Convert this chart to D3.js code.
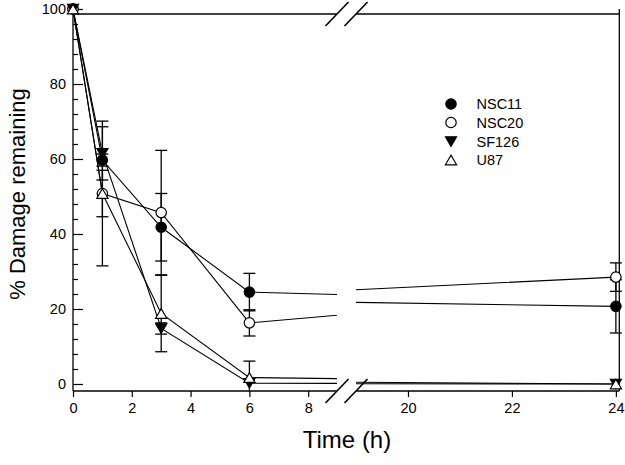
<!DOCTYPE html>
<html><head><meta charset="utf-8">
<script src="https://cdn.jsdelivr.net/npm/d3@7"></script>
<style>body{margin:0;background:#fff}svg{display:block}text{font-family:"Liberation Sans",Arial,sans-serif;fill:#000}</style>
</head><body>
<svg id="chart" width="625" height="465"></svg>
<script>
// ---- data ----
const times = [0, 1, 3, 6, 24];
const seriesNames = ["NSC11", "NSC20", "SF126", "U87"];
const nsc11 = [100, 59.7, 41.8, 24.5, 20.7];
const nsc11Err = [0, 1.6, 9.0, 5.0, 7.1];
const nsc20 = [100, 50.8, 45.7, 16.3, 28.5];
const nsc20Err = [0, 19.3, 16.6, 3.5, 3.8];
const sf126 = [100, 61.5, 14.8, 0.2, 0];
const sf126Err = [0, 7.1, 1.5, 0, 0];
const u87 = [100, 50.8, 18.8, 1.7, 0];
const u87Err = [0, 6.2, 10.2, 4.4, 0];
const xTicksLeft = [0, 2, 4, 6, 8];
const xTicksRight = [20, 22, 24];
const yTicksMajor = [0, 20, 40, 60, 80, 100];
const yTicksMinor = d3.range(4, 100, 4).filter(v => v % 20 !== 0);
const symbols = ["circleFilled", "circleOpen", "triDownFilled", "triUpOpen"];

const series = seriesNames.map((name, i) => ({
  name, sym: symbols[i],
  values: [nsc11, nsc20, sf126, u87][i],
  errs: [nsc11Err, nsc20Err, sf126Err, u87Err][i]
}));

// ---- layout ----
const svg = d3.select("#chart");
const axisY = 391, topY = 14;
const xL = d3.scaleLinear().domain([0, 9]).range([73, 337.6]);
const xR = d3.scaleLinear().domain([19, 24.06]).range([356, 619]);
const y = d3.scaleLinear().domain([-1.87, 100]).range([axisY, 9]);
const xOf = t => t <= 9 ? xL(t) : xR(t);
const breakL = 337, breakR = 356;

const defs = svg.append("defs");
defs.append("clipPath").attr("id", "clipL").append("rect")
  .attr("x", 73).attr("y", 0).attr("width", breakL - 73).attr("height", axisY);
defs.append("clipPath").attr("id", "clipR").append("rect")
  .attr("x", breakR).attr("y", 0).attr("width", 619 - breakR).attr("height", axisY);
defs.append("clipPath").attr("id", "clipY").append("rect")
  .attr("x", 0).attr("y", 0).attr("width", 625).attr("height", axisY);

// frame: top line and right line
const frame = svg.append("g").attr("stroke", "#000").attr("stroke-width", 1.3).attr("fill", "none");
frame.append("line").attr("x1", 73).attr("x2", breakL).attr("y1", topY).attr("y2", topY);
frame.append("line").attr("x1", breakR).attr("x2", 619.3).attr("y1", topY).attr("y2", topY);
frame.append("line").attr("x1", 619.3).attr("x2", 619.3).attr("y1", y(100)).attr("y2", axisY);

// x axes
function styleAxis(g) {
  g.selectAll("path.domain").attr("stroke-width", 1.3);
  g.selectAll(".tick line").attr("stroke-width", 1.2);
  g.selectAll("text").style("font-size", "14.5px").style("font-family", '"Liberation Sans", Arial, sans-serif');
}
const gxL = svg.append("g").attr("transform", `translate(0,${axisY})`)
  .call(d3.axisBottom(xL).tickValues(xTicksLeft).tickSize(6).tickSizeOuter(0).tickPadding(6).tickFormat(d3.format("d")));
gxL.select("path.domain").attr("d", `M73,0H${breakL}`);
styleAxis(gxL);
const gxR = svg.append("g").attr("transform", `translate(0,${axisY})`)
  .call(d3.axisBottom(xR).tickValues(xTicksRight).tickSize(6).tickSizeOuter(0).tickPadding(6).tickFormat(d3.format("d")));
gxR.select("path.domain").attr("d", `M${breakR},0H619.3`);
styleAxis(gxR);

// y axis
const gy = svg.append("g").attr("transform", "translate(73,0)")
  .call(d3.axisLeft(y).tickValues(yTicksMajor).tickSize(-10).tickSizeOuter(0).tickPadding(7));
gy.select("path.domain").attr("d", `M0,${y(100)}V${axisY}`);
styleAxis(gy);
const gyMinor = svg.append("g").attr("transform", "translate(73,0)")
  .call(d3.axisLeft(y).tickValues(yTicksMinor).tickSize(-5).tickFormat(""));
gyMinor.select("path.domain").remove();
gyMinor.selectAll(".tick line").attr("stroke-width", 1.2);

// break marks
const brk = svg.append("g").attr("stroke", "#000").attr("stroke-width", 1.6);
[topY, axisY].forEach(yy => {
  [breakL, breakR].forEach(xx => {
    brk.append("line").attr("x1", xx - 11.5).attr("y1", yy + 12).attr("x2", xx + 11.5).attr("y2", yy - 12);
  });
});

// lines
const plot = svg.append("g");
[["clipL", xL], ["clipR", xR]].forEach(([clip, sx]) => {
  const g = plot.append("g").attr("clip-path", `url(#${clip})`);
  series.forEach(s => {
    const line = d3.line().x((d, i) => sx(times[i])).y(d => y(d));
    g.append("path").attr("d", line(s.values)).attr("fill", "none").attr("stroke", "#000").attr("stroke-width", 1.1);
  });
});

// error bars
const eg = plot.append("g").attr("clip-path", "url(#clipY)").attr("stroke", "#000").attr("stroke-width", 1.3);
series.forEach(s => {
  s.values.forEach((v, i) => {
    const e = s.errs[i];
    if (!e) return;
    const cx = xOf(times[i]);
    const y1 = y(v + e), y2 = y(v - e);
    eg.append("line").attr("x1", cx).attr("x2", cx).attr("y1", y1).attr("y2", y2);
    eg.append("line").attr("x1", cx - 6).attr("x2", cx + 6).attr("y1", y1).attr("y2", y1);
    eg.append("line").attr("x1", cx - 6).attr("x2", cx + 6).attr("y1", y2).attr("y2", y2);
  });
});

// markers
function drawSymbol(g, sym, cx, cy) {
  const r = 5.2, w = 5.6, h = 9.6;
  if (sym === "circleFilled" || sym === "circleOpen") {
    g.append("circle").attr("cx", cx).attr("cy", cy).attr("r", r)
      .attr("fill", sym === "circleFilled" ? "#000" : "#fff").attr("stroke", "#000").attr("stroke-width", 1.2);
  } else if (sym === "triDownFilled") {
    g.append("path").attr("d", `M${cx - w},${cy - h / 2}L${cx + w},${cy - h / 2}L${cx},${cy + h / 2}Z`)
      .attr("fill", "#000").attr("stroke", "#000").attr("stroke-width", 1.1);
  } else {
    g.append("path").attr("d", `M${cx - w},${cy + h / 2}L${cx + w},${cy + h / 2}L${cx},${cy - h / 2}Z`)
      .attr("fill", "#fff").attr("stroke", "#000").attr("stroke-width", 1.2);
  }
}
const mg = plot.append("g");
series.forEach(s => {
  s.values.forEach((v, i) => drawSymbol(mg, s.sym, xOf(times[i]), y(v)));
});

// legend
const lg = svg.append("g");
const legY = [104, 122.5, 141.5, 160];
series.forEach((s, i) => {
  drawSymbol(lg, s.sym, 451, legY[i]);
  lg.append("text").attr("x", 476.5).attr("y", legY[i]).attr("dy", "0.36em")
    .style("font-size", "14.5px").text(s.name);
});

// axis titles
svg.append("text").attr("x", 347).attr("y", 448).attr("text-anchor", "middle")
  .style("font-size", "24px").text("Time (h)");
svg.append("text").attr("transform", "translate(25,194) rotate(-90)").attr("text-anchor", "middle")
  .style("font-size", "22px").text("% Damage remaining");
</script>
</body></html>
